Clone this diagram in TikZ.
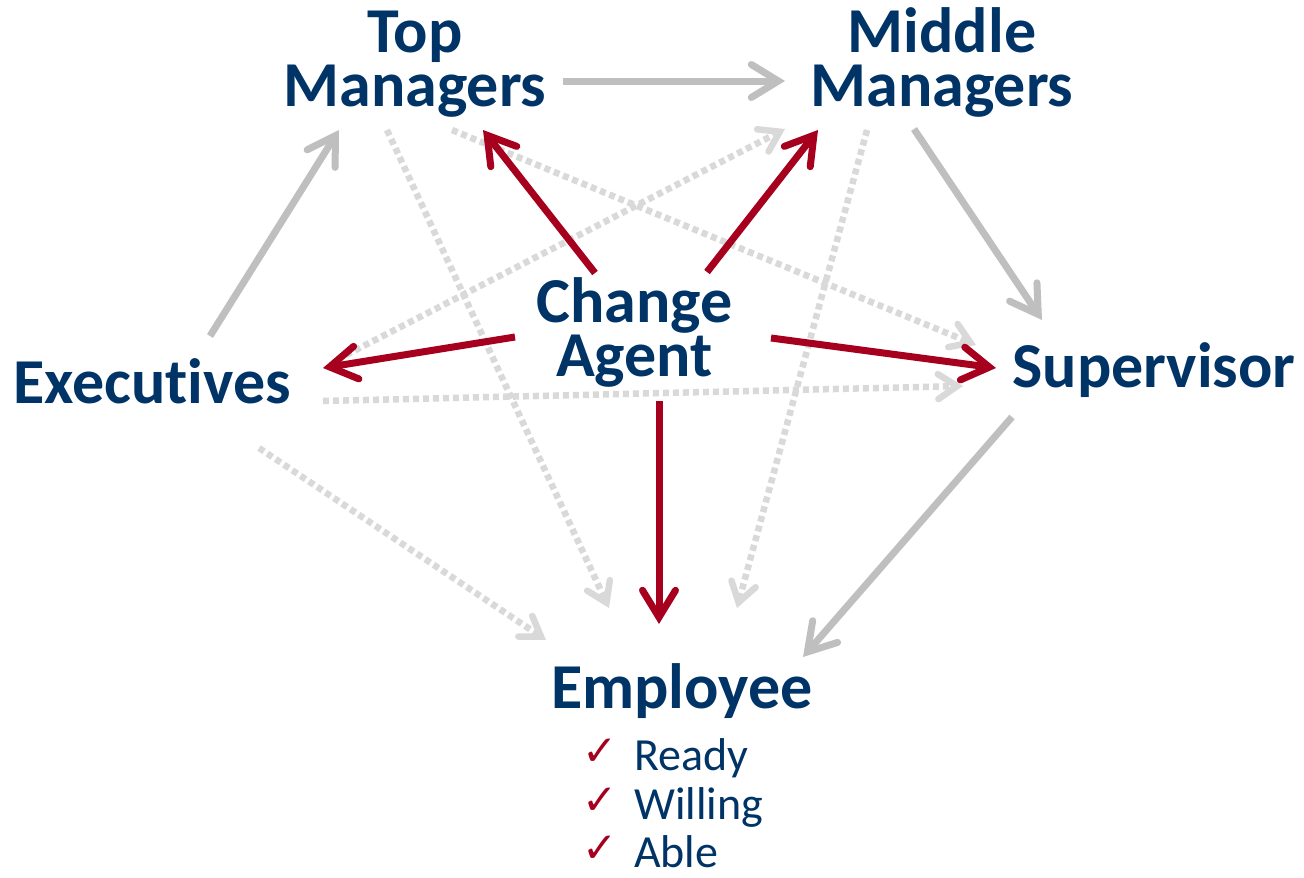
\documentclass[tikz,border=0pt]{standalone}
\usepackage{fontspec}
\setmainfont{Carlito}[Ligatures={NoCommon,NoRare}]
\newfontfamily\symfont{DejaVu Sans}
\usetikzlibrary{arrows.meta}
\newcommand\tightls{\lineskiplimit -100pt\relax}
\definecolor{navy}{HTML}{003366}
\definecolor{crimson}{HTML}{A6001E}
\definecolor{midgray}{HTML}{BFBFBF}
\definecolor{lightgray2}{HTML}{D9D9D9}
\tikzset{
  lbl/.style={inner sep=0pt, anchor=base, text=navy, align=center,
     font=\fontsize{64}{54}\selectfont\bfseries\tightls},
  item/.style={inner sep=0pt, anchor=base west, text=navy, text height=31pt, text depth=0pt,
     font=\fontsize{46}{46}\selectfont},
  tick/.style={inner sep=0pt, anchor=base, text=crimson, text height=24pt, text depth=0pt,
     font=\symfont\bfseries\fontsize{42}{42}\selectfont},
  solidarrow/.style={line width=7pt, -{Straight Barb[length=27pt,width=33pt,line cap=round,line join=miter]}},
  grayarrow/.style={solidarrow, draw=midgray},
  redarrow/.style={solidarrow, draw=crimson},
  dotarrow/.style={line width=6.5pt, draw=lightgray2, dash pattern=on 6pt off 4pt,
     -{Straight Barb[length=19pt,width=25pt,line cap=round,line join=miter]}},
}
\begin{document}
\begin{tikzpicture}[x=1pt,y=-1pt]
\useasboundingbox[fill=white] (0,0) rectangle (1304,878);
% labels
\node[lbl] (top) at (415,106) {Top\\Managers};
\node[lbl] (mid) at (942,106) {Middle\\Managers};
\node[lbl] (agent) at (634.5,376) {Change\\Agent};
\node[lbl] (exec) at (152,403) {Executives};
\node[lbl] (sup) at (1154,387) {Supervisor};
\node[lbl] (emp) at (682,708) {Employee};
\node[tick] (c1) at (600,765) {✓};
\node[tick] (c2) at (600,814) {✓};
\node[tick] (c3) at (600,862) {✓};
\node[item] (i1) at (634,770) {Ready};
\node[item] (i2) at (634,819) {Willing};
\node[item] (i3) at (634,867) {Able};
% dotted connectors
\draw[dotarrow] ([shift={(-28,24)}]top.base) -- ([shift={(-73,-100)}]emp.base);
\draw[dotarrow] ([shift={(37,24)}]top.base) -- ([shift={(-178,-42)}]sup.base);
\draw[dotarrow] ([shift={(-75,24)}]mid.base) -- ([shift={(55,-100)}]emp.base);
\draw[dotarrow] ([shift={(194,-48)}]exec.base) -- ([shift={(-157,23)}]mid.base);
\draw[dotarrow] ([shift={(171,-2)}]exec.base) -- ([shift={(-191,-1)}]sup.base);
\draw[dotarrow] ([shift={(107,45)}]exec.base) -- ([shift={(-136,-68)}]emp.base);
% gray connectors
\draw[grayarrow] ([shift={(148,-25)}]top.base) -- ([shift={(-157,-25)}]mid.base);
\draw[grayarrow] ([shift={(58,-67)}]exec.base) -- ([shift={(-76,24)}]top.base);
\draw[grayarrow] ([shift={(-28,23)}]mid.base) -- ([shift={(-112,-67)}]sup.base);
\draw[grayarrow] ([shift={(-142,30)}]sup.base) -- ([shift={(121,-51)}]emp.base);
% red connectors
\draw[redarrow] ([shift={(-39.5,-103)}]agent.base) -- ([shift={(68,24)}]top.base);
\draw[redarrow] ([shift={(72.5,-104)}]agent.base) -- ([shift={(-124,24)}]mid.base);
\draw[redarrow] ([shift={(-119.5,-39)}]agent.base) -- ([shift={(171,-35)}]exec.base);
\draw[redarrow] ([shift={(136.5,-38)}]agent.base) -- ([shift={(-158,-19)}]sup.base);
\draw[redarrow] ([shift={(24.5,25)}]agent.base) -- ([shift={(-23,-84)}]emp.base);
\end{tikzpicture}
\end{document}
